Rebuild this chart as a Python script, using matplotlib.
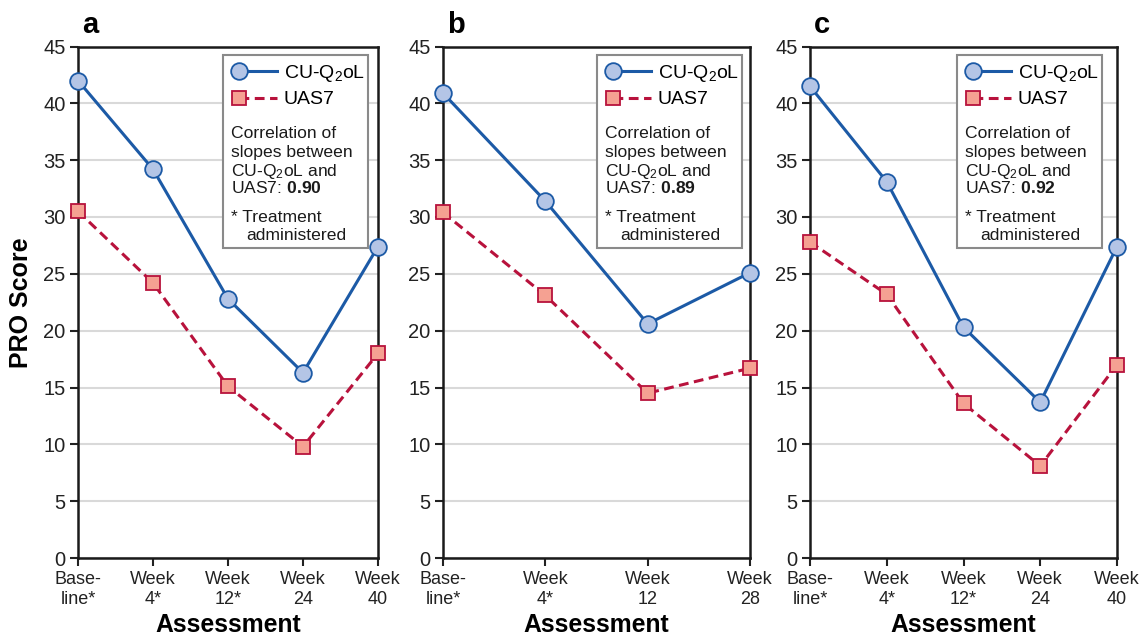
import numpy as np
import matplotlib
matplotlib.use('Agg')
import matplotlib.pyplot as plt
from matplotlib.patches import Rectangle
from matplotlib.lines import Line2D
from matplotlib.legend_handler import HandlerLine2D

plt.rcParams['font.family'] = ['Liberation Sans', 'DejaVu Sans']
plt.rcParams['mathtext.fontset'] = 'custom'
plt.rcParams['mathtext.rm'] = 'Liberation Sans'
plt.rcParams['mathtext.it'] = 'Liberation Sans:italic'
plt.rcParams['mathtext.bf'] = 'Liberation Sans:bold'

# Daten
panel_names = ['a', 'b', 'c']
labels_a = ['Base-\nline*', 'Week\n4*', 'Week\n12*', 'Week\n24', 'Week\n40']
labels_b = ['Base-\nline*', 'Week\n4*', 'Week\n12', 'Week\n28']
labels_c = ['Base-\nline*', 'Week\n4*', 'Week\n12*', 'Week\n24', 'Week\n40']
cu_a = [42.0, 34.2, 22.8, 16.3, 27.4]
uas_a = [30.5, 24.2, 15.1, 9.8, 18.0]
cu_b = [40.9, 31.4, 20.6, 25.1]
uas_b = [30.4, 23.1, 14.5, 16.7]
cu_c = [41.5, 33.1, 20.3, 13.7, 27.4]
uas_c = [27.8, 23.2, 13.6, 8.1, 17.0]
correlations = ['0.90', '0.89', '0.92']

BLUE = '#1c5aa6'
BLUE_FACE = '#b4c5e6'
RED = '#b8123c'
RED_FACE = '#f5a192'
GRID = '#d9d9d9'


class LeftMarkerHandler(HandlerLine2D):
    # Marker am linken Ende der Legendenlinie
    def create_artists(self, legend, orig_handle, xdescent, ydescent, width, height,
                       fontsize, trans):
        artists = super().create_artists(legend, orig_handle, xdescent, ydescent,
                                         width, height, fontsize, trans)
        for a in artists:
            if isinstance(a, Line2D):
                a.set_markevery([0])
        return artists


W, H = 1139, 636
fig = plt.figure(figsize=(W / 100, H / 100), dpi=100)

# Achsenpositionen in Pixeln (links, rechts)
ax_px = [(78, 378), (443, 750), (810, 1117)]
top_px, bottom_px = 46.5, 558
box_left_px = [223, 597, 957]

panels = [
    (labels_a, cu_a, uas_a),
    (labels_b, cu_b, uas_b),
    (labels_c, cu_c, uas_c),
]

for i, (labels, cu, uas) in enumerate(panels):
    x0, x1 = ax_px[i]
    ax = fig.add_axes([x0 / W, 1 - bottom_px / H, (x1 - x0) / W, (bottom_px - top_px) / H])
    aw, ah = x1 - x0, bottom_px - top_px
    x = np.arange(len(labels))

    ax.set_xlim(0, len(labels) - 1)
    ax.set_ylim(0, 45)
    ax.set_yticks(np.arange(0, 46, 5))
    ax.set_xticks(x)
    ax.set_xticklabels(labels, fontsize=13, linespacing=1.3)
    ax.tick_params(axis='y', labelsize=14.5, length=6, width=1.5, pad=3, colors='#222222')
    ax.tick_params(axis='x', length=6, width=1.5, pad=3, colors='#222222')
    ax.yaxis.grid(True, color=GRID, linewidth=1.5)
    ax.set_axisbelow(True)
    for sp in ax.spines.values():
        sp.set_linewidth(1.8)
        sp.set_color('#1a1a1a')

    l1, = ax.plot(x, cu, color=BLUE, linewidth=2.2, marker='o', markersize=12,
                  markerfacecolor=BLUE_FACE, markeredgecolor=BLUE, markeredgewidth=1.3,
                  clip_on=False, zorder=4, label='CU-Q$_2$oL')
    l2, = ax.plot(x, uas, color=RED, linewidth=2.2, linestyle=(0, (3.2, 1.8)), marker='s',
                  markersize=9.5, markerfacecolor=RED_FACE, markeredgecolor=RED,
                  markeredgewidth=1.3, clip_on=False, zorder=3, label='UAS7')

    ax.set_xlabel('Assessment', fontsize=17.8, fontweight='bold', labelpad=3)
    if i == 0:
        ax.set_ylabel('PRO Score', fontsize=18, fontweight='bold', labelpad=7)

    # Panelbuchstabe
    ax.text(4 / aw, 1 + 13.5 / ah, panel_names[i], transform=ax.transAxes,
            fontsize=21, fontweight='bold', va='baseline', ha='left')

    # Legendenkasten
    bx = box_left_px[i] - x0
    btop = 55 - top_px

    def fx(dx):
        return (bx + dx) / aw

    def fy(dy):
        return 1 - (btop + dy) / ah

    ax.add_patch(Rectangle((fx(0), fy(193)), 145 / aw, 193 / ah, transform=ax.transAxes,
                           facecolor='white', edgecolor='#8a8a8a', linewidth=1.5,
                           zorder=5, clip_on=False))

    leg = ax.legend(handles=[l1, l2], loc='upper left', bbox_to_anchor=(fx(16), fy(7.5)),
                    frameon=False, borderpad=0, borderaxespad=0, fontsize=14,
                    handlelength=1.95, handletextpad=0.35, labelspacing=0.38,
                    handler_map={l1: LeftMarkerHandler(), l2: LeftMarkerHandler()})
    leg.set_zorder(6)

    body = ['Correlation of', 'slopes between', 'CU-Q$_2$oL and',
            'UAS7: $\\mathbf{' + correlations[i] + '}$']
    body_y = [83.3, 101.7, 120.7, 138.3]
    for txt, yy in zip(body, body_y):
        ax.text(fx(8), fy(yy), txt, transform=ax.transAxes, fontsize=12.6,
                va='baseline', ha='left', zorder=6, color='#1a1a1a')
    ax.text(fx(8), fy(166.7), '* Treatment', transform=ax.transAxes, fontsize=12.6,
            va='baseline', ha='left', zorder=6, color='#1a1a1a')
    ax.text(fx(23), fy(185), 'administered', transform=ax.transAxes, fontsize=12.6,
            va='baseline', ha='left', zorder=6, color='#1a1a1a')

fig.savefig('out.png', dpi=100)
